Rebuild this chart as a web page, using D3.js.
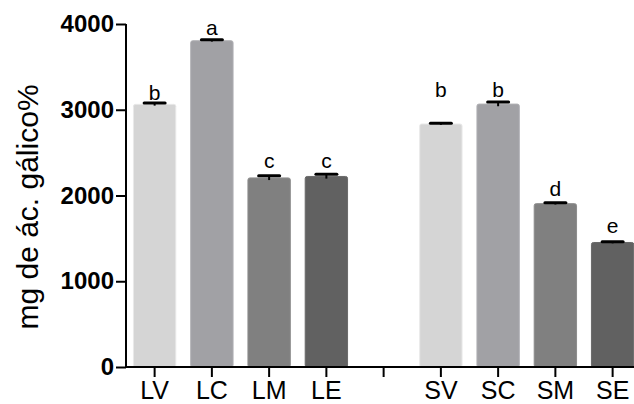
<!DOCTYPE html>
<html>
<head>
<meta charset="utf-8">
<script src="https://d3js.org/d3.v7.min.js"></script>
<style>
  body { margin: 0; background: #fff; overflow: hidden; }
  svg { display: block; }
  text { font-family: "Liberation Sans", Arial, Helvetica, sans-serif; }
</style>
</head>
<body>
<svg id="chart" width="634" height="404"></svg>
<script>
// data
const categories = ["LV", "LC", "LM", "LE", "", "SV", "SC", "SM", "SE"];
const means      = [3063, 3805, 2205, 2222, null, 2834, 3066, 1905, 1452];
const errors     = [15, 10, 25, 25, null, 10, 25, 10, 10];
const letters    = ["b", "a", "c", "c", "", "b", "b", "d", "e"];
const letterAt   = [3114, 3868, 2317, 2317, null, 3152, 3152, 1994, 1563];
const fills      = ["#d5d5d5", "#a1a1a5", "#808080", "#616161", null, "#d5d5d5", "#a1a1a5", "#808080", "#616161"];
const yTicks     = [0, 1000, 2000, 3000, 4000];

const rows = categories.map((c, i) => ({
  key: "k" + i, name: c, mean: means[i], err: errors[i],
  letter: letters[i], lpos: letterAt[i], fill: fills[i]
}));

const svg = d3.select("#chart");

const y = d3.scaleLinear().domain([0, 4000]).range([367, 24]);
const x = d3.scaleBand()
  .domain(rows.map(d => d.key))
  .range([126, 641.25])
  .paddingInner(0.26)
  .paddingOuter(0.13);

const bars = rows.filter(d => d.mean != null);

// bars
svg.selectAll("rect.bar")
  .data(bars)
  .enter()
  .append("rect")
  .attr("class", "bar")
  .attr("x", d => x(d.key))
  .attr("y", d => y(d.mean))
  .attr("width", x.bandwidth())
  .attr("height", d => y(0) - y(d.mean))
  .attr("rx", 2)
  .attr("fill", d => d.fill)
  .attr("stroke", d => d3.color(d.fill).brighter(0.25))
  .attr("stroke-width", 1);

// error bars
const capW = 21;
const eb = svg.selectAll("g.err").data(bars).enter().append("g").attr("class", "err");
eb.append("line")
  .attr("x1", d => x(d.key) + x.bandwidth() / 2)
  .attr("x2", d => x(d.key) + x.bandwidth() / 2)
  .attr("y1", d => y(d.mean + d.err))
  .attr("y2", d => y(d.mean - d.err))
  .attr("stroke", "#000").attr("stroke-width", 2);
eb.append("line")
  .attr("x1", d => x(d.key) + x.bandwidth() / 2 - capW / 2)
  .attr("x2", d => x(d.key) + x.bandwidth() / 2 + capW / 2)
  .attr("y1", d => y(d.mean + d.err))
  .attr("y2", d => y(d.mean + d.err))
  .attr("stroke", "#000").attr("stroke-width", 3).attr("stroke-linecap", "round");

// significance letters
svg.selectAll("text.letter")
  .data(bars)
  .enter()
  .append("text")
  .attr("class", "letter")
  .attr("x", d => x(d.key) + x.bandwidth() / 2)
  .attr("y", d => y(d.lpos))
  .attr("text-anchor", "middle")
  .attr("font-size", 21)
  .text(d => d.letter);

// y axis
const yAxis = svg.append("g")
  .attr("transform", "translate(126,0)")
  .call(d3.axisLeft(y).tickValues(yTicks).tickFormat(d3.format("d")).tickSize(10).tickPadding(2));
yAxis.select(".domain").attr("stroke-width", 2).attr("d", "M0,24V367");
yAxis.selectAll(".tick line").attr("stroke-width", 2);
yAxis.selectAll(".tick text")
  .attr("font-size", 24).attr("font-weight", "bold").attr("fill", "#000")
  .attr("font-family", "'Liberation Sans', Arial, sans-serif");

// x axis
const xAxis = svg.append("g")
  .attr("transform", "translate(0,367)")
  .call(d3.axisBottom(x).tickFormat(k => rows.find(r => r.key === k).name).tickSize(10).tickPadding(4));
xAxis.select(".domain").attr("stroke-width", 2).attr("d", "M125,0H641");
xAxis.selectAll(".tick line").attr("stroke-width", 2);
xAxis.selectAll(".tick text")
  .attr("font-size", 25).attr("fill", "#000")
  .attr("font-family", "'Liberation Sans', Arial, sans-serif");

// y label
svg.append("text")
  .attr("transform", "translate(38,207) rotate(-90)")
  .attr("text-anchor", "middle")
  .attr("font-size", 30)
  .text("mg de ác. gálico%");
</script>
</body>
</html>
